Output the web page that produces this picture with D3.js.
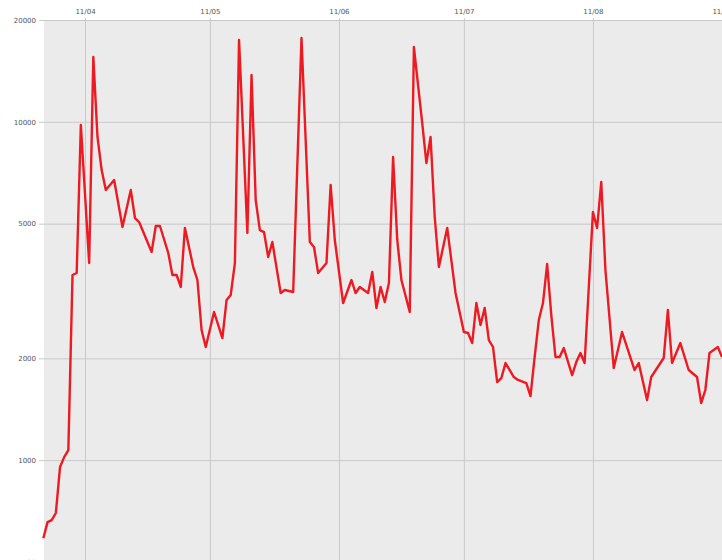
<!DOCTYPE html>
<html>
<head>
<meta charset="utf-8">
<script src="https://cdn.jsdelivr.net/npm/d3@7/dist/d3.min.js"></script>
<style>
  html, body { margin: 0; padding: 0; background: #ffffff; }
  svg { display: block; }
  .tick-label { font-family: "DejaVu Sans", sans-serif; font-size: 7px; fill: #555; }
</style>
</head>
<body>
<svg id="chart" width="722" height="560"></svg>
<script>
// Daily counts, March – August 2011 (log scale)
const dates = [
  "2011-03-22","2011-03-23","2011-03-24","2011-03-25","2011-03-26","2011-03-27","2011-03-28","2011-03-29","2011-03-30","2011-03-31",
  "2011-04-02","2011-04-03","2011-04-04","2011-04-05","2011-04-06","2011-04-08","2011-04-10","2011-04-12","2011-04-13","2011-04-14",
  "2011-04-17","2011-04-18","2011-04-19","2011-04-21","2011-04-22","2011-04-23","2011-04-24","2011-04-25","2011-04-27","2011-04-28",
  "2011-04-29","2011-04-30","2011-05-02","2011-05-04","2011-05-05","2011-05-06","2011-05-07","2011-05-08","2011-05-10","2011-05-11",
  "2011-05-12","2011-05-13","2011-05-14","2011-05-15","2011-05-16","2011-05-18","2011-05-19","2011-05-21","2011-05-23","2011-05-25",
  "2011-05-26","2011-05-27","2011-05-29","2011-05-30","2011-05-31","2011-06-02","2011-06-04","2011-06-05","2011-06-06","2011-06-08",
  "2011-06-09","2011-06-10","2011-06-11","2011-06-12","2011-06-13","2011-06-14","2011-06-15","2011-06-16","2011-06-18","2011-06-19",
  "2011-06-21","2011-06-22","2011-06-23","2011-06-24","2011-06-25","2011-06-27","2011-06-29","2011-07-01","2011-07-02","2011-07-03",
  "2011-07-04","2011-07-05","2011-07-06","2011-07-07","2011-07-08","2011-07-09","2011-07-10","2011-07-11","2011-07-13","2011-07-14",
  "2011-07-16","2011-07-17","2011-07-18","2011-07-19","2011-07-20","2011-07-21","2011-07-22","2011-07-23","2011-07-24","2011-07-25",
  "2011-07-27","2011-07-28","2011-07-29","2011-07-30","2011-08-01","2011-08-02","2011-08-03","2011-08-04","2011-08-06","2011-08-08",
  "2011-08-11","2011-08-12","2011-08-14","2011-08-15","2011-08-18","2011-08-19","2011-08-20","2011-08-22","2011-08-24","2011-08-26",
  "2011-08-27","2011-08-28","2011-08-29","2011-08-31","2011-09-01"
];
const values = [
  588, 656, 665, 698, 954, 1021, 1071, 3526, 3574, 9790,
  3825, 15545, 9022, 7203, 6288, 6730, 4888, 6288, 5196, 5057,
  4123, 4922, 4922, 4096, 3526, 3526, 3250, 4856, 3723, 3408,
  2425, 2160, 2741, 2296, 2974, 3077, 3825, 17457, 4693, 13752,
  5872, 4788, 4723, 3985, 4414, 3119, 3184, 3141, 17693, 4414,
  4266, 3574, 3825, 6507, 4475, 2914, 3408, 3119, 3250, 3119,
  3599, 2817, 3250, 2934, 3339, 7870, 4475, 3408, 2741, 16642,
  9920, 7555, 9022, 5232, 3723, 4856, 3119, 2392, 2376, 2219,
  2914, 2508, 2817, 2265, 2160, 1702, 1748, 1937, 1761, 1726,
  1690, 1547, 2018, 2595, 2914, 3799, 2685, 2018, 2018, 2145,
  1785, 1950, 2074, 1937, 5413, 4856, 6639, 3648, 1872, 2392,
  1847, 1937, 1505, 1761, 2004, 2778, 1937, 2219, 1847, 1761,
  1475, 1612, 2074, 2160, 2018
];
const yTickValues = [500, 1000, 2000, 5000, 10000, 20000];
const xTickLabels = ["11/04", "11/05", "11/06", "11/07", "11/08", "11/09"];

const parse = d3.timeParse("%Y-%m-%d");
const points = dates.map((d, i) => ({ date: parse(d), value: values[i] }));

const svg = d3.select("#chart");
const W = 722, H = 560;
const plot = { left: 44, top: 20, right: 740, bottom: 562 };

const x = d3.scaleTime()
  .domain([parse("2011-04-01"), parse("2011-09-01")])
  .range([85, 722]);
const y = d3.scaleLog()
  .domain([500, 20000])
  .range([plot.bottom, plot.top]);

// plot background
svg.append("rect")
  .attr("x", plot.left).attr("y", plot.top)
  .attr("width", plot.right - plot.left).attr("height", plot.bottom - plot.top + 10)
  .attr("fill", "#ebebeb");

// horizontal grid + left labels
const yAxis = d3.axisLeft(y)
  .tickValues(yTickValues)
  .tickFormat(d3.format("d"))
  .tickSize(-(plot.right - plot.left) - 5)
  .tickPadding(3);
const gy = svg.append("g")
  .attr("transform", `translate(${plot.left - 5},0)`)
  .call(yAxis);
gy.select(".domain").remove();
gy.selectAll(".tick line").attr("stroke", "#c9c9c9").attr("stroke-width", 1);
gy.selectAll(".tick text").attr("class", "tick-label").attr("font-size", null).attr("font-family", null);

// vertical grid at month starts + top labels
const monthTicks = xTickLabels.map(s => d3.timeParse("%y/%m")(s));
const xAxis = d3.axisTop(x)
  .tickValues(monthTicks)
  .tickFormat((d, i) => xTickLabels[i])
  .tickSize(-(plot.bottom - plot.top) - 10)
  .tickPadding(4);
const gx = svg.append("g")
  .attr("transform", `translate(0,${plot.top - 2})`)
  .call(xAxis);
gx.select(".domain").remove();
gx.selectAll(".tick line").attr("stroke", "#c9c9c9").attr("stroke-width", 1);
gx.selectAll(".tick text").attr("class", "tick-label").attr("font-size", null).attr("font-family", null);

// data line
const line = d3.line()
  .x(d => x(d.date))
  .y(d => y(d.value));
svg.append("path")
  .datum(points)
  .attr("d", line)
  .attr("fill", "none")
  .attr("stroke", "#ee1a22")
  .attr("stroke-width", 2.4)
  .attr("stroke-linejoin", "round");
</script>
</body>
</html>
